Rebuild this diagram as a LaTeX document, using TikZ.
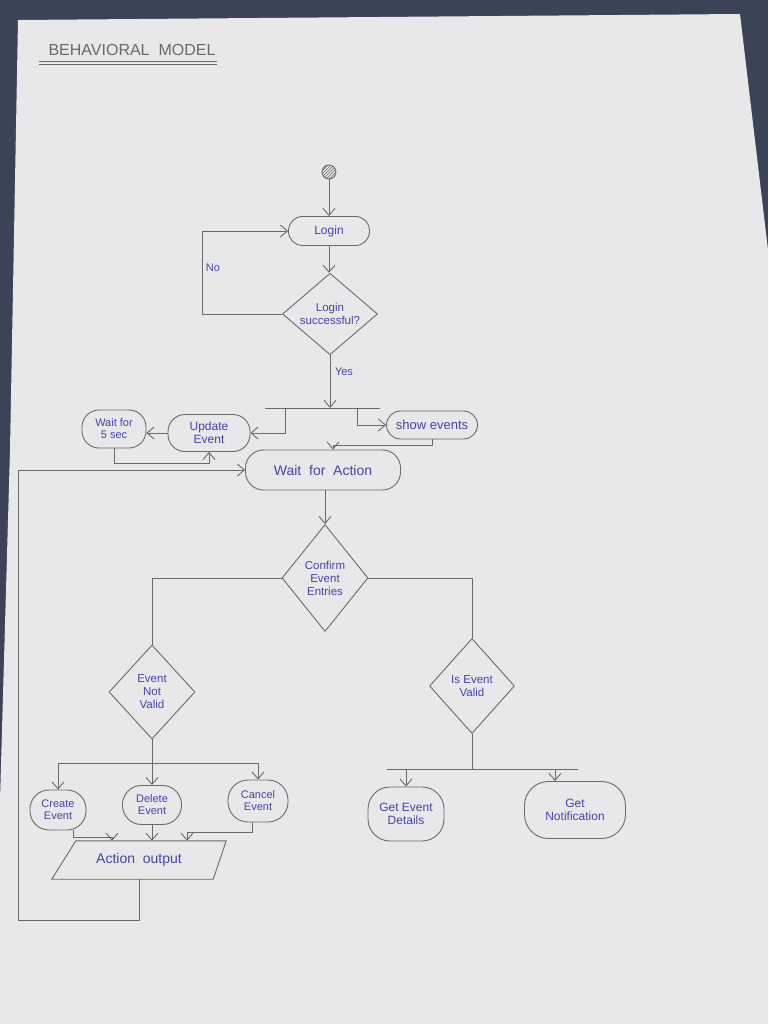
\documentclass[tikz,border=0pt]{standalone}
\usepackage{fontspec}
\setmainfont{Liberation Sans}
\usetikzlibrary{arrows.meta,shapes.geometric,patterns}
\definecolor{ink}{HTML}{4444A6}
\definecolor{pencil}{HTML}{6A6A6A}
\definecolor{paper}{HTML}{E8E8EA}
\definecolor{cloth}{HTML}{3A4456}
\begin{document}
\begin{tikzpicture}[x=1pt,y=-1pt,
  line/.style={draw=pencil,line width=0.9pt},
  arr/.style={line,-{Straight Barb[length=7pt,width=12pt]}},
  act/.style={draw=pencil,line width=0.9pt,rounded corners=14pt,text=ink,align=center,inner sep=1pt,font=\fontsize{12}{13}\selectfont},
  dec/.style={diamond,draw=pencil,line width=0.9pt,inner sep=0pt,text=ink,align=center,font=\fontsize{11.5}{13}\selectfont},
  lbl/.style={text=ink,font=\fontsize{11}{12}\selectfont,inner sep=1pt}]
\useasboundingbox (0,0) rectangle (768,1024);
\fill[cloth] (0,0) rectangle (768,1024);
\fill[paper] (18,20) -- (740,14) -- (768,250) -- (768,1024) -- (0,1024) -- (0,800) -- (10,450) -- cycle;

% title
\node[text=pencil,font=\fontsize{16}{16}\selectfont,inner sep=0pt] (title) at (132,50) {BEHAVIORAL\; MODEL};
\draw[line] ([xshift=-9,yshift=-6]title.south west) -- ([xshift=1,yshift=-6]title.south east);
\draw[line] ([xshift=-9,yshift=-9]title.south west) -- ([xshift=1,yshift=-9]title.south east);

% nodes
\node[circle,draw=pencil,line width=0.9pt,pattern=north east lines,pattern color=pencil,minimum size=14pt,inner sep=0pt] (start) at (329,172) {};
\node[act,minimum width=81,minimum height=29] (login) at (329,231) {Login};
\node[dec,minimum width=95,minimum height=76] (lsucc) at (330,314) {Login\\successful?};
\node[lbl] (no) at (213,268) {No};
\node[lbl] (yes) at (344,372) {Yes};
\coordinate (f1) at (330,408);
\coordinate (f1l) at (265,408);
\coordinate (f1r) at (380,408);
\coordinate (f1a) at (285,408);
\coordinate (f1b) at (357,408);
\node[act,minimum width=82,minimum height=37,rounded corners=17pt] (update) at (209,433) {Update\\Event};
\node[act,minimum width=64,minimum height=38,rounded corners=17pt,font=\fontsize{11}{12}\selectfont] (wait5) at (114,429) {Wait for\\5 sec};
\node[act,minimum width=91,minimum height=28,font=\fontsize{13}{14}\selectfont] (show) at (432,425) {show events};
\node[act,minimum width=155,minimum height=40,rounded corners=18pt,font=\fontsize{14}{15}\selectfont] (waitact) at (323,470) {Wait\; for\; Action};
\node[dec,minimum width=86,minimum height=107] (confirm) at (325,578) {Confirm\\Event\\Entries};
\node[dec,minimum width=86,minimum height=94] (notvalid) at (152,692) {Event\\Not\\Valid};
\node[dec,minimum width=85,minimum height=95] (isvalid) at (472,686) {Is Event\\Valid};
\coordinate (f2) at (152,763);
\coordinate (f2l) at (58,763);
\coordinate (f2r) at (258,763);
\node[act,minimum width=56,minimum height=40,rounded corners=19pt,font=\fontsize{11}{12}\selectfont] (create) at (58,810) {Create\\Event};
\node[act,minimum width=59,minimum height=39,rounded corners=19pt,font=\fontsize{11}{12}\selectfont] (delete) at (152,805) {Delete\\Event};
\node[act,minimum width=60,minimum height=42,rounded corners=20pt,font=\fontsize{11}{12}\selectfont] (cancel) at (258,801) {Cancel\\Event};
\node[minimum width=150,minimum height=38,inner sep=0pt,text=ink,font=\fontsize{14}{15}\selectfont] (aout) at (139,860) {Action\; output};
\draw[line] ([xshift=12]aout.north west) -- ([xshift=12]aout.north east) -- ([xshift=-1]aout.south east) -- ([xshift=-12]aout.south west) -- cycle;
\coordinate (f3) at (472,769);
\coordinate (f3l) at (387,769);
\coordinate (f3r) at (578,769);
\coordinate (f3a) at (406,769);
\coordinate (f3b) at (555,769);
\node[act,minimum width=76,minimum height=54,rounded corners=22pt] (details) at (406,814) {Get Event\\Details};
\node[act,minimum width=101,minimum height=57,rounded corners=24pt] (notif) at (575,810) {Get\\Notification};
\coordinate (loopc) at (18,920);

% connectors
\draw[arr] (start.south) -- (login.north);
\draw[arr] (login.south) -- (login.south|-lsucc.north);
\draw[arr] (lsucc.west) -- ++(-80,0) |- (login.west);
\draw[arr] (lsucc.south) -- (f1);
\draw[line] (f1l) -- (f1r);
\draw[arr] (f1a) |- (update.east);
\draw[arr] (f1b) |- (show.west);
\draw[arr] (update.west) -- (update.west-|wait5.east);
\draw[arr] (wait5.south) -- ++(0,15) -| (update.south);
\draw[arr] (show.south) -- ++(0,6) -| ([xshift=10]waitact.north);
\draw[arr] (waitact.south-|confirm.north) -- (confirm.north);
\draw[line] (confirm.west) -| (notvalid.north);
\draw[line] (confirm.east) -| (isvalid.north);
\draw[line] (notvalid.south) -- (f2);
\draw[line] (f2l) -- (f2r);
\draw[arr] (f2l) -- (create.north);
\draw[arr] (f2) -- (delete.north);
\draw[arr] (f2r) -- (cancel.north);
\draw[arr] ([xshift=15]create.south) -- ++(0,7) -| ([xshift=-27]aout.north);
\draw[arr] (delete.south) -- (delete.south|-aout.north);
\draw[arr] ([xshift=-6]cancel.south) -- ++(0,10) -| ([xshift=48]aout.north);
\draw[arr] (aout.south) |- (loopc) |- (waitact.west);
\draw[line] (isvalid.south) -- (f3);
\draw[line] (f3l) -- (f3r);
\draw[arr] (f3a) -- (details.north);
\draw[arr] (f3b) -- (f3b|-notif.north);
\end{tikzpicture}
\end{document}
